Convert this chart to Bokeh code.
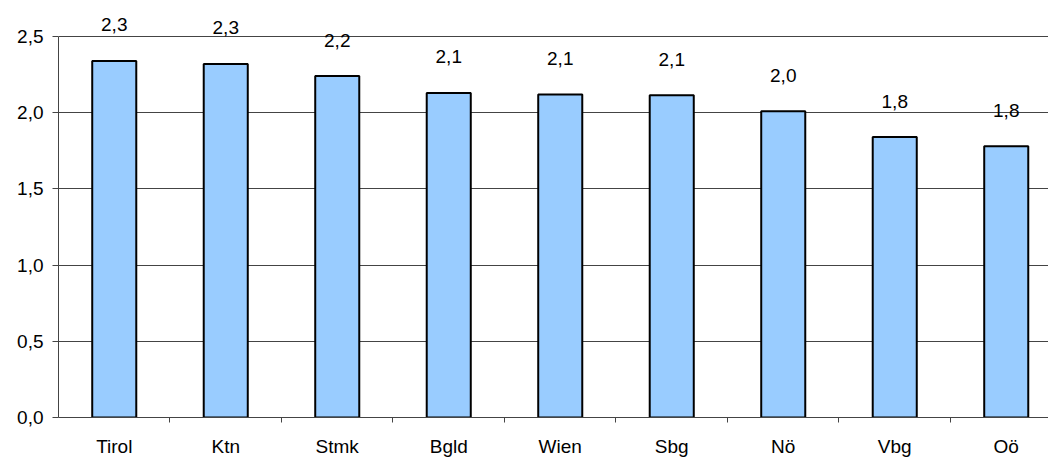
from bokeh.plotting import figure
from bokeh.models import ColumnDataSource, FixedTicker, CustomJSTickFormatter, Range1d
from bokeh.core.properties import value
from bokeh.embed import file_html
from bokeh.resources import INLINE

regions = ["Tirol", "Ktn", "Stmk", "Bgld", "Wien", "Sbg", "Nö", "Vbg", "Oö"]
values = [2.34, 2.32, 2.24, 2.13, 2.12, 2.115, 2.01, 1.84, 1.78]
y_ticks = [0.0, 0.5, 1.0, 1.5, 2.0, 2.5]

xpos = [i + 0.5 for i in range(len(regions))]
labels = [f"{v:.1f}".replace(".", ",") for v in values]
src = ColumnDataSource(dict(x=xpos, top=values, lab=labels))

FONT = "Liberation Sans"
FS = "19px"
AX = "#444444"

p = figure(frame_width=990, frame_height=417, output_backend="svg", toolbar_location=None,
           x_range=Range1d(0, 8.879), y_range=Range1d(0, 2.5 * 417 / 381),
           min_border_left=58, min_border_right=0, min_border_top=0, min_border_bottom=40)
p.outline_line_color = None
p.background_fill_color = "white"
p.border_fill_color = "white"

p.vbar(x="x", top="top", width=0.395, bottom=0, source=src,
       fill_color="#99CCFF", line_color="black", line_width=2)

p.text(x="x", y="top", text="lab", source=src, y_offset=-36,
       text_align="center", text_baseline="middle",
       text_font=value(FONT), text_font_size=FS, text_color="black")

# x axis
p.xaxis.ticker = FixedTicker(ticks=xpos, minor_ticks=[float(i) for i in range(1, len(regions))])
p.xaxis.formatter = CustomJSTickFormatter(args=dict(names=regions),
                                          code="return names[Math.round(tick - 0.5)];")
p.xaxis.major_tick_out = 0
p.xaxis.major_tick_in = 0
p.xaxis.minor_tick_out = 5
p.xaxis.minor_tick_in = 0
p.xaxis.minor_tick_line_color = AX
p.xaxis.axis_line_color = AX
p.xaxis.major_label_standoff = 13
p.xaxis.major_label_text_font = FONT
p.xaxis.major_label_text_font_size = FS
p.xaxis.major_label_text_color = "black"
p.xgrid.grid_line_color = None

# y axis
p.yaxis.ticker = FixedTicker(ticks=y_ticks, minor_ticks=[])
p.yaxis.bounds = (0, 2.5)
p.yaxis.formatter = CustomJSTickFormatter(code="return tick.toFixed(1).replace('.', ',');")
p.yaxis.major_tick_out = 6
p.yaxis.major_tick_in = 0
p.yaxis.major_tick_line_color = AX
p.yaxis.axis_line_color = AX
p.yaxis.major_label_standoff = 9
p.yaxis.major_label_text_font = FONT
p.yaxis.major_label_text_font_size = FS
p.yaxis.major_label_text_color = "black"
p.ygrid.grid_line_color = AX
p.ygrid.grid_line_width = 1

open("out.html", "w").write(file_html(p, INLINE))
